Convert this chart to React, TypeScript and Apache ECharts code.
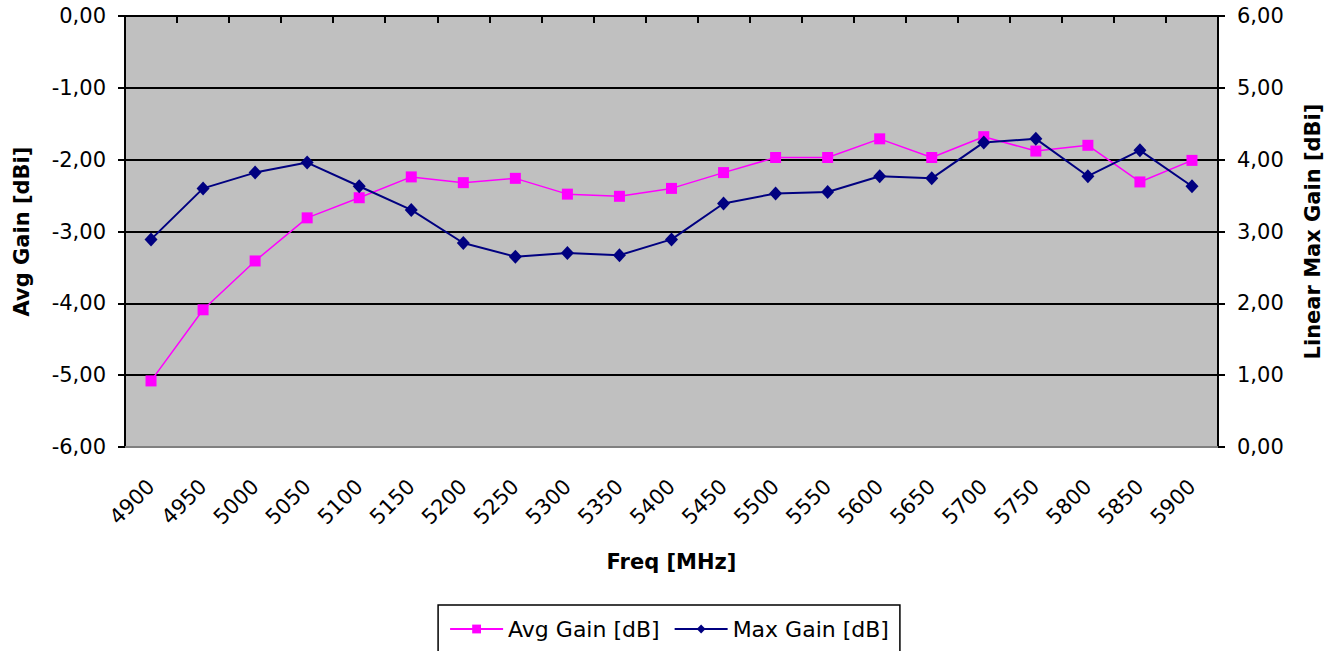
import React, { useEffect, useRef } from "react";
import * as echarts from "echarts";

const freqs = [
  "4900", "4950", "5000", "5050", "5100", "5150", "5200", "5250", "5300", "5350", "5400",
  "5450", "5500", "5550", "5600", "5650", "5700", "5750", "5800", "5850", "5900",
];

const avgGain = [
  -5.08, -4.09, -3.41, -2.81, -2.53, -2.24, -2.32, -2.26, -2.48, -2.51, -2.4,
  -2.18, -1.97, -1.97, -1.71, -1.97, -1.68, -1.88, -1.8, -2.31, -2.01,
];

const maxGain = [
  2.89, 3.6, 3.82, 3.96, 3.63, 3.3, 2.84, 2.65, 2.7, 2.67, 2.89,
  3.39, 3.53, 3.55, 3.77, 3.74, 4.24, 4.29, 3.77, 4.13, 3.63,
];

const seriesNames = ["Avg Gain [dB]", "Max Gain [dB]"];
const axisTitles = { x: "Freq [MHz]", left: "Avg Gain [dBi]", right: "Linear Max Gain [dBi]" };

const FONT = "'DejaVu Sans', Verdana, sans-serif";
const FS = 21;

const fmt = (v: number) => {
  const n = Math.abs(v) < 1e-9 ? 0 : v;
  return n.toFixed(2).replace(".", ",");
};

export default function App() {
  const ref = useRef<HTMLDivElement>(null);

  useEffect(() => {
    if (!ref.current) return;
    const chart = echarts.init(ref.current, undefined, { renderer: "svg" });
    const blackLine = { color: "#000", width: 2 };
    const titleStyle = { fontWeight: "bold", fontSize: FS, color: "#000", fontFamily: FONT, lineHeight: FS };
    const option: any = {
      animation: false,
      backgroundColor: "#ffffff",
      textStyle: { fontFamily: FONT },
      grid: {
        left: 125,
        right: 120,
        top: 16,
        bottom: 204,
        show: true,
        backgroundColor: "#C0C0C0",
        borderWidth: 0,
        outerBoundsMode: "none",
      },
      legend: {
        data: seriesNames,
        left: "center",
        top: 605,
        orient: "horizontal",
        itemWidth: 53,
        itemHeight: 11,
        itemGap: 14,
        padding: [13, 11, 16, 11],
        borderColor: "#000",
        borderWidth: 1.5,
        textStyle: { fontSize: 22, color: "#000", fontFamily: FONT },
      },
      xAxis: [
        {
          type: "category",
          data: freqs,
          position: "bottom",
          boundaryGap: true,
          axisLine: { show: true, onZero: false, lineStyle: { color: "#808080", width: 2 } },
          axisTick: { show: false },
          axisLabel: {
            interval: 0,
            rotate: 45,
            margin: 36,
            fontSize: FS,
            color: "#000",
            fontFamily: FONT,
          },
          splitLine: { show: false },
          name: axisTitles.x,
          nameLocation: "middle",
          nameGap: 104,
          nameTextStyle: titleStyle,
        },
        {
          type: "category",
          data: freqs,
          position: "top",
          boundaryGap: true,
          axisLine: { show: true, onZero: false, lineStyle: blackLine },
          axisTick: { show: true, inside: true, length: 7, lineStyle: blackLine },
          axisLabel: { show: false },
          splitLine: { show: false },
        },
      ],
      yAxis: [
        {
          type: "value",
          position: "left",
          min: -6,
          max: 0,
          interval: 1,
          axisLine: { show: true, onZero: false, lineStyle: blackLine },
          axisTick: { show: true, length: 7, lineStyle: blackLine },
          axisLabel: { margin: 19, formatter: fmt, fontSize: FS, color: "#000", fontFamily: FONT },
          splitLine: { show: true, showMinLine: false, lineStyle: blackLine },
          name: axisTitles.left,
          nameLocation: "middle",
          nameRotate: 90,
          nameGap: 93,
          nameTextStyle: titleStyle,
        },
        {
          type: "value",
          position: "right",
          min: 0,
          max: 6,
          interval: 1,
          axisLine: { show: true, onZero: false, lineStyle: blackLine },
          axisTick: { show: true, length: 7, lineStyle: blackLine },
          axisLabel: { margin: 19, formatter: fmt, fontSize: FS, color: "#000", fontFamily: FONT },
          splitLine: { show: false },
          name: axisTitles.right,
          nameLocation: "middle",
          nameRotate: 90,
          nameGap: 84,
          nameTextStyle: titleStyle,
        },
      ],
      series: [
        {
          name: seriesNames[0],
          type: "line",
          xAxisIndex: 0,
          yAxisIndex: 0,
          data: avgGain,
          symbol: "rect",
          symbolSize: 11,
          showAllSymbol: true,
          itemStyle: { color: "#FF00FF" },
          lineStyle: { color: "#FF00FF", width: 1.5 },
        },
        {
          name: seriesNames[1],
          type: "line",
          xAxisIndex: 0,
          yAxisIndex: 1,
          data: maxGain,
          symbol: "diamond",
          symbolSize: [13, 14],
          showAllSymbol: true,
          itemStyle: { color: "#000080" },
          lineStyle: { color: "#000080", width: 2 },
        },
      ],
    };
    chart.setOption(option);
    return () => chart.dispose();
  }, []);

  return (
    <div
      ref={ref}
      style={{ position: "absolute", left: 0, top: 0, width: 1338, height: 651, background: "#fff" }}
    />
  );
}
